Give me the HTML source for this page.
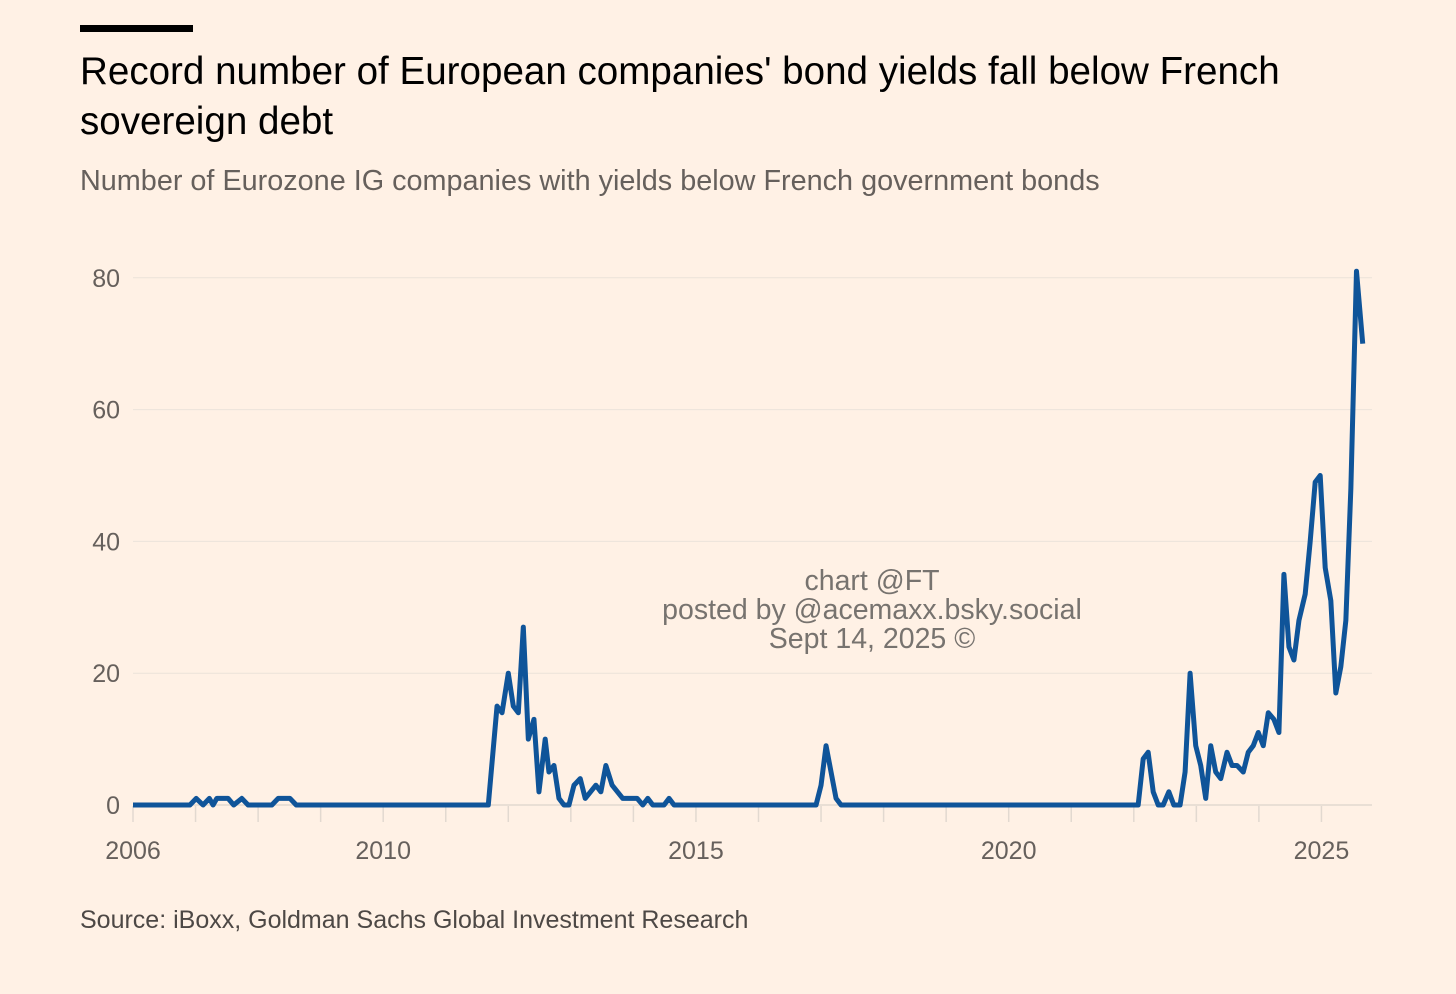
<!DOCTYPE html>
<html><head><meta charset="utf-8">
<style>
body{margin:0;background:#fff1e5;width:1456px;height:994px;overflow:hidden;font-family:"Liberation Sans","DejaVu Sans",sans-serif;position:relative}
.t{position:absolute;white-space:nowrap}
</style></head>
<body>
<div class="t" style="left:80px;top:25px;width:113px;height:7px;background:#000"></div>
<div class="t" style="left:80px;top:47px;font-size:38.6px;line-height:50px;color:#000">Record number of European companies' bond yields fall below French<br>sovereign debt</div>
<div class="t" style="left:80px;top:165px;font-size:28.8px;color:#66605c">Number of Eurozone IG companies with yields below French government bonds</div>
<div class="t" style="left:80px;top:906px;font-size:25px;color:#4d4845">Source: iBoxx, Goldman Sachs Global Investment Research</div>
<svg id="c" width="1456" height="994" style="position:absolute;left:0;top:0"></svg>
<div class="t" style="left:572px;width:600px;top:567px;text-align:center;font-size:28.5px;line-height:29px;color:#77736f">chart @FT<br>posted by @acemaxx.bsky.social<br>Sept 14, 2025 ©</div>
<script>
const yTicks=[0,20,40,60,80];
const xTickLabels=[2006,2010,2015,2020,2025];
const dates=[2006.00,2006.91,2007.01,2007.12,2007.22,2007.28,2007.34,2007.52,2007.61,2007.74,2007.84,2008.22,2008.32,2008.51,2008.61,
2011.68,2011.82,2011.90,2012.00,2012.08,2012.16,2012.24,2012.32,2012.41,2012.49,2012.59,2012.65,2012.73,2012.81,2012.89,2012.97,2013.05,2013.15,2013.23,2013.40,2013.48,2013.56,2013.66,2013.83,2014.06,2014.15,2014.23,2014.31,2014.49,2014.57,2014.65,
2016.92,2017.00,2017.08,2017.16,2017.24,2017.32,
2022.07,2022.15,2022.23,2022.31,2022.39,2022.47,2022.56,2022.64,2022.74,2022.82,2022.90,2022.99,2023.07,2023.15,2023.23,2023.31,2023.39,2023.49,2023.57,2023.65,2023.75,2023.83,2023.91,2023.99,2024.07,2024.15,2024.24,2024.32,2024.40,2024.48,2024.56,2024.64,2024.74,2024.82,2024.90,2024.98,2025.06,2025.15,2025.23,2025.31,2025.39,2025.47,2025.56,2025.66];
const values=[0,0,1,0,1,0,1,1,0,1,0,0,1,1,0,
0,15,14,20,15,14,27,10,13,2,10,5,6,1,0,0,3,4,1,3,2,6,3,1,1,0,1,0,0,1,0,
0,3,9,5,1,0,
0,7,8,2,0,0,2,0,0,5,20,9,6,1,9,5,4,8,6,6,5,8,9,11,9,14,13,11,35,24,22,28,32,40,49,50,36,31,17,21,28,48,81,70];
const NS='http://www.w3.org/2000/svg';
const svg=document.getElementById('c');
const X=y=>133+(y-2006)*62.55;
const Y=v=>805-v*6.59;
function mk(tag,at){const e=document.createElementNS(NS,tag);for(const k in at)e.setAttribute(k,at[k]);svg.appendChild(e);return e;}
yTicks.forEach(v=>{
  if(v>0){const g=mk('line',{x1:133,x2:1372,y1:Y(v),y2:Y(v),stroke:'#ece3da','stroke-width':1});
  
  }
  const t=mk('text',{x:120,y:Y(v)+9,'text-anchor':'end','font-size':25,fill:'#66605c','font-family':'Liberation Sans, sans-serif'});
  t.textContent=v;
  
  
});
for(let yr=2006;yr<=2025;yr++){
  const l=mk('line',{x1:X(yr),x2:X(yr),y1:806,y2:822,stroke:'#e2d9d0','stroke-width':1.5});
  
  
}
const base=mk('line',{x1:133,x2:1372,y1:805,y2:805,stroke:'#e2d9d0','stroke-width':1.5});


xTickLabels.forEach(yr=>{
  const t=mk('text',{x:X(yr),y:859,'text-anchor':'middle','font-size':25,fill:'#66605c','font-family':'Liberation Sans, sans-serif'});
  t.textContent=yr;
  
  
});
const p=mk('polyline',{points:dates.map((d,i)=>X(d)+','+Y(values[i])).join(' '),fill:'none',stroke:'#0f5499','stroke-width':5,'stroke-linejoin':'round'});


</script>
</body></html>
